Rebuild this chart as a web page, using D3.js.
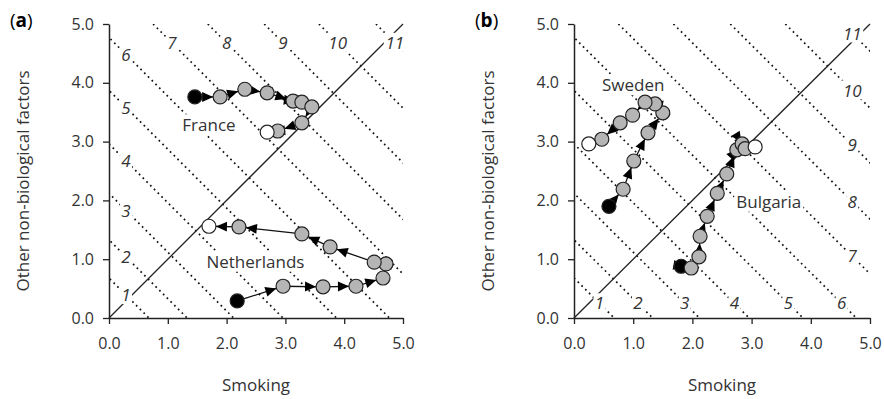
<!DOCTYPE html>
<html>
<head>
<meta charset="utf-8">
<script src="https://cdn.jsdelivr.net/npm/d3@7"></script>
<style>
  body { margin: 0; background: #fff; }
  text { font-family: "Open Sans", "Noto Sans", sans-serif; fill: #333; }
  .tick text { font-size: 16px; }
  .iso { font-style: italic; font-size: 17px; }
</style>
</head>
<body>
<svg id="chart" width="884" height="399"></svg>
<script>
// iso lines: smoking + other = const
var isoValues = [0.68, 1.33, 2.12, 2.96, 3.87, 4.77, 5.75, 6.68, 7.64, 8.57, 9.54];
var isoLabels = ["1", "2", "3", "4", "5", "6", "7", "8", "9", "10", "11"];
var axisTicks = [0, 1, 2, 3, 4, 5];

// panel (a)
var franceSmoking = [1.46, 1.89, 2.31, 2.69, 3.13, 3.28, 3.45, 3.28, 2.87, 2.69];
var franceOther   = [3.76, 3.76, 3.89, 3.83, 3.69, 3.67, 3.59, 3.32, 3.18, 3.16];
var nethSmoking = [2.18, 2.96, 3.64, 4.20, 4.66, 4.71, 4.51, 3.76, 3.28, 2.21, 1.70];
var nethOther   = [0.29, 0.54, 0.53, 0.54, 0.68, 0.92, 0.95, 1.21, 1.43, 1.55, 1.56];

// panel (b)
var swedenSmoking = [0.59, 0.83, 1.01, 1.25, 1.50, 1.37, 1.20, 0.99, 0.78, 0.47, 0.25];
var swedenOther   = [1.90, 2.19, 2.67, 3.15, 3.49, 3.64, 3.67, 3.45, 3.32, 3.04, 2.96];
var bulgSmoking = [1.81, 1.98, 2.11, 2.13, 2.25, 2.42, 2.58, 2.75, 2.84, 2.89, 3.06];
var bulgOther   = [0.88, 0.85, 1.04, 1.39, 1.73, 2.12, 2.45, 2.86, 2.96, 2.88, 2.91];

var svg = d3.select("#chart");

function drawPanel(opt) {
  var x = d3.scaleLinear().domain([0, 5]).range([opt.x0, opt.x1]);
  var y = d3.scaleLinear().domain([0, 5]).range([318, 24]);
  var g = svg.append("g");

  var clipId = "clip-" + opt.id;
  g.append("clipPath").attr("id", clipId).append("rect")
    .attr("x", x(0)).attr("y", y(5)).attr("width", x(5) - x(0)).attr("height", y(0) - y(5));

  // dotted iso lines
  g.append("g").attr("clip-path", "url(#" + clipId + ")").selectAll("line")
    .data(isoValues)
    .enter().append("line")
    .attr("x1", function (c) { return x(c - 5); })
    .attr("y1", y(5))
    .attr("x2", function (c) { return x(c); })
    .attr("y2", y(0))
    .attr("stroke", "#111")
    .attr("stroke-width", 1.7)
    .attr("stroke-dasharray", "1.7,3.6");

  // diagonal
  g.append("line")
    .attr("x1", x(0)).attr("y1", y(0)).attr("x2", x(5)).attr("y2", y(5))
    .attr("stroke", "#222").attr("stroke-width", 1.3);

  // iso labels with white boxes
  var lab = g.append("g").selectAll("g")
    .data(isoValues.map(function (c, i) { return { c: c, t: isoLabels[i], i: i }; }))
    .enter().append("g")
    .attr("transform", function (d) {
      var p = opt.labelPos(d);
      return "translate(" + x(p[0]) + "," + y(p[1]) + ")";
    });
  lab.append("rect")
    .attr("x", function (d) { return d.t.length > 1 ? -11 : -6; })
    .attr("y", -10)
    .attr("width", function (d) { return d.t.length > 1 ? 22 : 12; })
    .attr("height", 19)
    .attr("fill", "#fff");
  lab.append("text")
    .attr("class", "iso")
    .attr("text-anchor", "middle")
    .attr("dy", "0.36em")
    .text(function (d) { return d.t; });

  // axes
  g.append("g")
    .attr("transform", "translate(0," + y(0) + ")")
    .call(d3.axisBottom(x).tickValues(axisTicks).tickFormat(d3.format(".1f")).tickSize(6).tickPadding(14).tickSizeOuter(0))
    .call(function (a) { a.select(".domain").attr("stroke", "#222").attr("stroke-width", 1.5); a.selectAll(".tick line").attr("stroke", "#222").attr("stroke-width", 1.3); a.selectAll("text").attr("fill", "#333"); });
  g.append("g")
    .attr("transform", "translate(" + x(0) + ",0)")
    .call(d3.axisLeft(y).tickValues(axisTicks).tickFormat(d3.format(".1f")).tickSize(6).tickPadding(9).tickSizeOuter(0))
    .call(function (a) { a.select(".domain").attr("stroke", "#222").attr("stroke-width", 1.5); a.selectAll(".tick line").attr("stroke", "#222").attr("stroke-width", 1.3); a.selectAll("text").attr("fill", "#333"); });

  // country names on white boxes
  opt.series.forEach(function (s) {
    var t = g.append("text")
      .attr("x", x(s.tx)).attr("y", y(s.ty))
      .attr("text-anchor", "middle").attr("dy", "0.36em")
      .attr("font-size", "17px")
      .text(s.name);
    var bb = t.node().getBBox();
    g.insert("rect", function () { return t.node(); })
      .attr("x", bb.x - 2).attr("y", bb.y + 1)
      .attr("width", bb.width + 4).attr("height", bb.height - 2)
      .attr("fill", "#fff");
  });

  // trajectories
  opt.series.forEach(function (s) {
    var pts = s.sx.map(function (v, i) { return [x(v), y(s.sy[i])]; });
    var tg = g.append("g");
    tg.append("path")
      .attr("d", d3.line()(pts))
      .attr("fill", "none").attr("stroke", "#111").attr("stroke-width", 1.3);
    var r = 7, L = 11, w = 5;
    for (var i = 1; i < pts.length; i++) {
      var p0 = pts[i - 1], p1 = pts[i];
      var dx = p1[0] - p0[0], dy = p1[1] - p0[1], len = Math.hypot(dx, dy);
      var ux = dx / len, uy = dy / len;
      var tx = p1[0] - ux * r, ty = p1[1] - uy * r;
      var bx = tx - ux * L, by = ty - uy * L;
      tg.append("path")
        .attr("d", "M" + tx + "," + ty + "L" + (bx - uy * w) + "," + (by + ux * w) + "L" + (bx + uy * w) + "," + (by - ux * w) + "Z")
        .attr("fill", "#000");
    }
    tg.selectAll("circle")
      .data(pts)
      .enter().append("circle")
      .attr("cx", function (d) { return d[0]; })
      .attr("cy", function (d) { return d[1]; })
      .attr("r", r)
      .attr("fill", function (d, i) { return i === 0 ? "#000" : (i === pts.length - 1 ? "#fff" : "#b5b5b5"); })
      .attr("stroke", "#222")
      .attr("stroke-width", 1.2);
  });

  // titles
  g.append("text")
    .attr("x", (x(0) + x(5)) / 2).attr("y", 391)
    .attr("text-anchor", "middle").attr("font-size", "17px")
    .text("Smoking");
  g.append("text")
    .attr("transform", "translate(" + (x(0) - 80) + "," + y(2.33) + ") rotate(-90)")
    .attr("text-anchor", "middle").attr("font-size", "17px")
    .text("Other non-biological factors");
  var pl = g.append("text")
    .attr("x", x(0) - 99).attr("y", 27)
    .attr("font-size", "19px").style("fill", "#000");
  pl.append("tspan").text("(");
  pl.append("tspan").attr("font-weight", "bold").text(opt.tag);
  pl.append("tspan").text(")");
}

drawPanel({
  id: "a", tag: "a", x0: 109, x1: 403,
  labelPos: function (d) { return d.i < 6 ? [0.29, d.c - 0.29] : [d.c - 4.68, 4.68]; },
  series: [
    { name: "France", sx: franceSmoking, sy: franceOther, tx: 1.7, ty: 3.28 },
    { name: "Netherlands", sx: nethSmoking, sy: nethOther, tx: 2.49, ty: 0.96 }
  ]
});
drawPanel({
  id: "b", tag: "b", x0: 574, x1: 870,
  labelPos: function (d) { return d.i < 6 ? [d.c - 0.25, 0.25] : [4.70, d.c - 4.70]; },
  series: [
    { name: "Sweden", sx: swedenSmoking, sy: swedenOther, tx: 1.0, ty: 3.96 },
    { name: "Bulgaria", sx: bulgSmoking, sy: bulgOther, tx: 3.29, ty: 1.98 }
  ]
});
</script>
</body>
</html>
